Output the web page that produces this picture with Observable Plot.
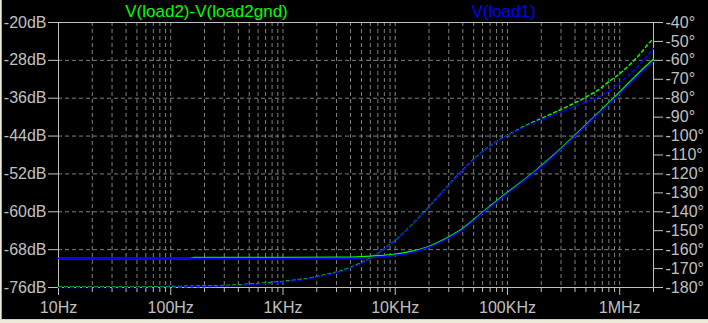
<!DOCTYPE html>
<html>
<head>
<meta charset="utf-8">
<script src="https://cdn.jsdelivr.net/npm/d3@7"></script>
<script src="https://cdn.jsdelivr.net/npm/@observablehq/plot@0.6"></script>
<style>
  html, body { margin: 0; padding: 0; background: #000; }
  #wrap { position: relative; width: 708px; height: 323px; overflow: hidden; }
  #edgeL { position: absolute; left: 0; top: 0; width: 1px; height: 323px; background: #ece9d8; border-right: 1px solid #aca899; }
  #edgeB { position: absolute; left: 0; bottom: 0; width: 708px; height: 3px; background: #ece9d8; border-top: 1px solid #d4d0c8; }
</style>
</head>
<body>
<div id="wrap"><div id="chart"></div><div id="edgeL"></div><div id="edgeB"></div></div>
<script>
// ---- data ----
const seriesNames = ["V(load2)-V(load2gnd)", "V(load1)"];
const seriesColors = ["#00ff00", "#0000ff"];

// magnitude (dB), solid lines, left axis
const magFreq  = [10, 100, 150, 160, 1000, 3000, 5000, 7000, 10000, 14000, 20000, 30000, 40000, 60000, 100000, 170000, 250000, 400000, 600000, 1000000, 1500000, 2000000];
const magLoad1 = [-69.88, -69.88, -69.88, -69.88, -69.87, -69.84, -69.75, -69.55, -69.2, -68.6, -67.5, -65.5, -63.7, -60.3, -56.1, -51.9, -48.5, -44.0, -40.0, -35.0, -30.9, -28.2];
const magLoad2 = [-69.88, -69.88, -69.88, -69.66, -69.66, -69.62, -69.5, -69.3, -68.95, -68.35, -67.3, -65.3, -63.5, -60.1, -55.9, -51.7, -48.3, -43.8, -39.8, -34.7, -30.5, -27.7];

// phase (degrees), dotted lines, right axis
const phaseFreq  = [10, 53, 130, 316, 509, 822, 1000, 1330, 1870, 2450, 3226, 3958, 4860, 5964, 7320, 8989, 11034, 13545, 16629, 20413, 25055, 30760, 37760, 46350, 56890, 69820, 85700, 105200, 129100, 158500, 194800, 239200, 293800, 360600, 442600, 543300, 666800, 818500, 1004600, 1233000, 1513000, 1858000, 2000000];
const phaseLoad1 = [-180.0, -180.0, -179.7, -179.2, -178.5, -177.6, -177.1, -176.3, -174.9, -173.4, -171.7, -169.8, -167.5, -164.7, -161.3, -157.4, -153.0, -147.9, -142.5, -136.8, -131.0, -125.2, -119.5, -114.2, -109.5, -105.4, -101.9, -99.0, -96.4, -93.9, -91.7, -89.5, -87.4, -85.3, -83.3, -81.2, -78.8, -75.8, -71.7, -67.2, -61.9, -55.8, -53.8];
const phaseLoad2 = [-179.7, -179.7, -179.4, -178.9, -178.2, -177.3, -176.8, -176.0, -174.6, -173.1, -171.4, -169.5, -167.2, -164.5, -161.2, -157.3, -152.9, -147.8, -142.4, -136.7, -130.9, -125.1, -119.4, -114.1, -109.4, -105.3, -101.8, -98.9, -96.1, -93.4, -91.0, -88.6, -86.2, -83.7, -81.1, -78.2, -75.0, -70.8, -66.9, -62.2, -56.7, -50.4, -48.5];

// axes
const dbTicks = [-20, -28, -36, -44, -52, -60, -68, -76];
const phaseTicks = [-40, -50, -60, -70, -80, -90, -100, -110, -120, -130, -140, -150, -160, -170, -180];
const xMajorTicks = [10, 100, 1000, 10000, 100000, 1000000];
const xTickLabels = ["10Hz", "100Hz", "1KHz", "10KHz", "100KHz", "1MHz"];
const xDomain = [10, 2000000];
const dbDomain = [-76, -20];
const phaseDomain = [-180, -40];

// ---- build ----
const k = (dbDomain[1] - dbDomain[0]) / (phaseDomain[1] - phaseDomain[0]);
const phToY = p => dbDomain[0] + (p - phaseDomain[0]) * k;
const yToPh = y => phaseDomain[0] + (y - dbDomain[0]) / k;

const xMinor = [];
for (let dec = 10; dec < 2000000; dec *= 10) {
  for (let m = 1; m <= 9; m++) {
    const v = dec * m;
    if (v > xDomain[0] && v < xDomain[1]) xMinor.push(v);
  }
}
const xMinorOnly = xMinor.filter(v => !xMajorTicks.includes(v));
xMinorOnly.push(2000000);

const mag = [];
magFreq.forEach((f, i) => {
  mag.push({f, v: magLoad2[i], s: 0});
  mag.push({f, v: magLoad1[i], s: 1});
});
const ph = [];
phaseFreq.forEach((f, i) => {
  ph.push({f, v: phToY(phaseLoad2[i]), s: 0});
  ph.push({f, v: phToY(phaseLoad1[i]), s: 1});
});

const gridColor = "#808080";
const plot = Plot.plot({
  width: 708,
  height: 323,
  marginLeft: 58,
  marginRight: 55,
  marginTop: 22,
  marginBottom: 36,
  style: {background: "#000", color: "#c0c0c0", fontSize: "16px", fontFamily: "'Liberation Sans', Arial, sans-serif"},
  x: {type: "log", domain: xDomain, axis: null},
  y: {domain: dbDomain, axis: null},
  marks: [
    Plot.ruleX(xMinor, {stroke: gridColor, strokeDasharray: "4,3"}),
    Plot.ruleY(dbTicks.filter(d => d !== dbDomain[0] && d !== dbDomain[1]), {stroke: gridColor, strokeDasharray: "4,3"}),
    Plot.frame({stroke: "#c0c0c0"}),
    Plot.axisY({anchor: "left", ticks: dbTicks, tickFormat: d => `${d}dB`, tickSize: 10, tickPadding: 2, label: null}),
    Plot.axisY({anchor: "right", ticks: phaseTicks.map(phToY), tickFormat: d => `${Math.round(yToPh(d))}°`, tickSize: 9, tickPadding: 3, label: null}),
    Plot.axisX({anchor: "bottom", ticks: xMajorTicks, tickFormat: d => xTickLabels[xMajorTicks.indexOf(d)], tickSize: 8, tickPadding: 6, label: null}),
    Plot.axisX({anchor: "bottom", ticks: xMinorOnly, tickFormat: () => "", tickSize: 5, label: null}),
    Plot.line(ph.filter(d => d.s === 0), {x: "f", y: "v", stroke: seriesColors[0], strokeWidth: 1.5, strokeDasharray: "3,3", curve: "monotone-x"}),
    Plot.line(ph.filter(d => d.s === 1), {x: "f", y: "v", stroke: seriesColors[1], strokeWidth: 1.5, strokeDasharray: "3,3", curve: "monotone-x"}),
    Plot.line(mag.filter(d => d.s === 0), {x: "f", y: "v", stroke: seriesColors[0], strokeWidth: 1.5, curve: "monotone-x"}),
    Plot.line(mag.filter(d => d.s === 1), {x: "f", y: "v", stroke: seriesColors[1], strokeWidth: 1.5, curve: "monotone-x"}),
    Plot.text([seriesNames[0]], {frameAnchor: "top-left", dx: 148, dy: -11, lineAnchor: "middle", textAnchor: "middle", fill: seriesColors[0], fontSize: 17}),
    Plot.text([seriesNames[1]], {frameAnchor: "top-left", dx: 445, dy: -11, lineAnchor: "middle", textAnchor: "middle", fill: seriesColors[1], fontSize: 17})
  ]
});
document.getElementById("chart").appendChild(plot);
</script>
</body>
</html>
